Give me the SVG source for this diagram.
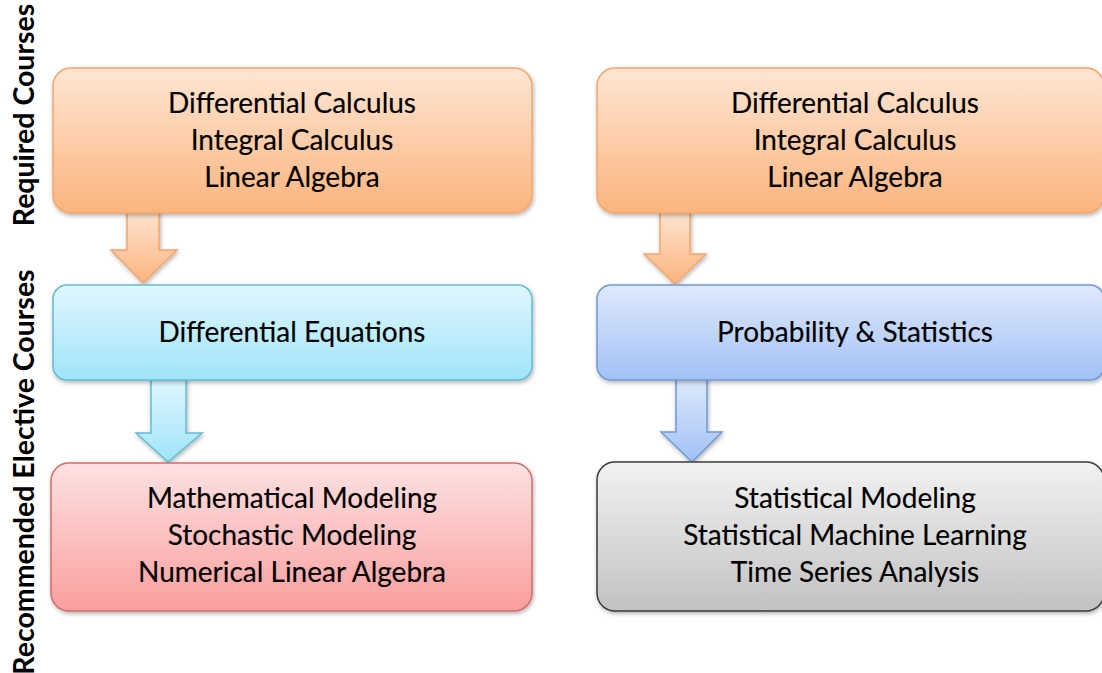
<svg xmlns="http://www.w3.org/2000/svg" width="1102" height="673" viewBox="0 0 1102 673">
<defs>
<linearGradient id="gOr" x1="0" y1="0" x2="0" y2="1"><stop offset="0" stop-color="#fee6d4"/><stop offset="1" stop-color="#fbb47d"/></linearGradient>
<linearGradient id="gCy" x1="0" y1="0" x2="0" y2="1"><stop offset="0" stop-color="#e0f7fe"/><stop offset="1" stop-color="#a0e4fa"/></linearGradient>
<linearGradient id="gBl" x1="0" y1="0" x2="0" y2="1"><stop offset="0" stop-color="#dfe9fc"/><stop offset="1" stop-color="#a2c1f6"/></linearGradient>
<linearGradient id="gRd" x1="0" y1="0" x2="0" y2="1"><stop offset="0" stop-color="#fde2e2"/><stop offset="1" stop-color="#fa9e9e"/></linearGradient>
<linearGradient id="gGr" x1="0" y1="0" x2="0" y2="1"><stop offset="0" stop-color="#f2f2f2"/><stop offset="1" stop-color="#c2c2c2"/></linearGradient>
<filter id="sh" x="-5%" y="-10%" width="110%" height="130%"><feDropShadow dx="1" dy="2" stdDeviation="2" flood-color="#000" flood-opacity="0.3"/></filter>
</defs>
<style>
.t{font-family:Lato,"Open Sans",sans-serif;font-size:28px;font-weight:normal;fill:#000;text-anchor:middle;stroke:#000;stroke-width:0.15}
.side{font-family:Lato,"Open Sans",sans-serif;font-size:28.5px;font-weight:bold;fill:#000;text-anchor:middle}
.or{fill:url(#gOr);stroke:#f4a56a;stroke-width:1.5}
.cy{fill:url(#gCy);stroke:#62bcd6;stroke-width:1.5}
.bl{fill:url(#gBl);stroke:#7099d6;stroke-width:1.5}
.rd{fill:url(#gRd);stroke:#d06c6c;stroke-width:1.5}
.gr{fill:url(#gGr);stroke:#3a3a3a;stroke-width:1.5}
</style>
<rect width="1102" height="673" fill="#fff"/>
<g id="labels">
<text class="side" transform="translate(34,115) rotate(-90)">Required Courses</text>
<text class="side" transform="translate(34,472) rotate(-90)">Recommended Elective Courses</text>
</g>
<g id="connectors">
<path class="or" filter="url(#sh)" d="M127,209 H159 V250 H177 L143,283 L111,250 H127 Z"/>
<path class="or" filter="url(#sh)" d="M660,209 H690 V254 H706 L675,284 L644,254 H660 Z"/>
<path class="cy" filter="url(#sh)" d="M151,378 H186 V433 H202 L168,462 L136,433 H151 Z"/>
<path class="bl" filter="url(#sh)" d="M676,378 H707 V432 H722 L692,462 L661,432 H676 Z"/>
</g>
<g id="req-left">
<rect class="or" filter="url(#sh)" x="53" y="68" width="479" height="145" rx="18"/>
<text class="t" x="292" y="113">Differential Calculus</text>
<text class="t" x="292" y="150">Integral Calculus</text>
<text class="t" x="292" y="187">Linear Algebra</text>
</g>
<g id="req-right">
<rect class="or" filter="url(#sh)" x="597" y="68" width="507" height="145" rx="18"/>
<text class="t" x="855" y="113">Differential Calculus</text>
<text class="t" x="855" y="150">Integral Calculus</text>
<text class="t" x="855" y="187">Linear Algebra</text>
</g>
<g id="diffeq">
<rect class="cy" filter="url(#sh)" x="53" y="285" width="479" height="95" rx="14"/>
<text class="t" x="292" y="342">Differential Equations</text>
</g>
<g id="probstat">
<rect class="bl" filter="url(#sh)" x="597" y="285" width="507" height="95" rx="14"/>
<text class="t" x="855" y="342">Probability &amp; Statistics</text>
</g>
<g id="modeling">
<rect class="rd" filter="url(#sh)" x="51" y="463" width="481" height="148" rx="18"/>
<text class="t" x="292" y="508">Mathematical Modeling</text>
<text class="t" x="292" y="545">Stochastic Modeling</text>
<text class="t" x="292" y="582">Numerical Linear Algebra</text>
</g>
<g id="statistics">
<rect class="gr" filter="url(#sh)" x="597" y="462" width="507" height="149" rx="18"/>
<text class="t" x="855" y="508">Statistical Modeling</text>
<text class="t" x="855" y="545">Statistical Machine Learning</text>
<text class="t" x="855" y="582">Time Series Analysis</text>
</g>
</svg>
